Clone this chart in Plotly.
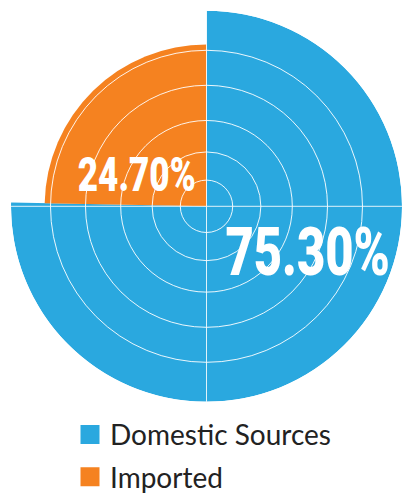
import plotly.graph_objects as go

# Share of supply by origin (percent of total)
sources = ["Domestic Sources", "Imported"]
shares = [75.30, 24.70]
# Radial length of each wedge on a 0-100 scale
reach = [100, 82.8]
# Radial gridline levels
ring_levels = [13.4, 27.8, 43.9, 61.9, 79.8]
colors = ["#2AA8DF", "#F58220"]

W, H = 402, 494

# Wedges run clockwise from 12 o'clock, width proportional to share
widths = [s * 3.6 for s in shares]
centers = []
start = 0.0
for w in widths:
    centers.append(start + w / 2)
    start += w

fig = go.Figure()

for name, r, th, w, c in zip(sources, reach, centers, widths, colors):
    fig.add_trace(go.Barpolar(
        r=[r], theta=[th], width=[w], name=name,
        marker=dict(color=c, line=dict(width=0)),
        showlegend=False, hoverinfo="skip", subplot="polar",
    ))

# Legend entries live on the overlay subplot that carries the gridlines
for name, c in zip(sources, colors):
    fig.add_trace(go.Scatterpolar(
        r=[None], theta=[None], mode="markers", name=name,
        legendgroup=name,
        marker=dict(symbol="square", size=16, color=c, line=dict(color=c, width=3)),
        subplot="polar2", hoverinfo="skip",
    ))

# Percentage labels (x, y in pixels, font size)
label_pos = [(307, 252, 67), (136, 175, 48)]
annotations = []
for s, (px, py, fs) in zip(shares, label_pos):
    annotations.append(dict(
        text=f"{s:.2f}%", x=px / W, y=1 - py / H,
        xref="paper", yref="paper", xanchor="center", yanchor="middle",
        showarrow=False,
        font=dict(family="Roboto", size=fs, color="white", weight=900),
    ))

cx, cy, rad = 206.5, 206.3, 195.5
dom = dict(x=[(cx - rad) / W, min(1.0, (cx + rad) / W)],
           y=[1 - (cy + rad) / H, 1 - (cy - rad) / H])

hidden_angular = dict(rotation=90, direction="clockwise", showgrid=False,
                      showticklabels=False, showline=False, ticks="")
hidden_radial = dict(range=[0, 100], showgrid=False, showticklabels=False,
                     showline=False, ticks="")

fig.update_layout(
    width=W, height=H,
    margin=dict(l=0, r=0, t=0, b=0, autoexpand=False),
    paper_bgcolor="white", plot_bgcolor="white",
    polar=dict(domain=dom, bgcolor="rgba(0,0,0,0)",
               angularaxis=hidden_angular, radialaxis=hidden_radial),
    polar2=dict(
        domain=dom, bgcolor="rgba(0,0,0,0)",
        angularaxis=dict(rotation=90, direction="clockwise", tickmode="array",
                         tickvals=[0, 90, 180, 270], showgrid=True,
                         gridcolor="rgba(255,255,255,0.85)", gridwidth=1,
                         showticklabels=False, showline=False, ticks=""),
        radialaxis=dict(range=[0, 100], tickmode="array", tickvals=ring_levels,
                        showgrid=True, gridcolor="rgba(255,255,255,0.9)", gridwidth=1,
                        showticklabels=False, showline=False, ticks=""),
    ),
    showlegend=True,
    legend=dict(x=70 / W, y=1 - 409.7 / H, xanchor="left", yanchor="top",
                font=dict(family="Lato", size=28, color="#222"),
                tracegroupgap=3, bgcolor="rgba(0,0,0,0)"),
    annotations=annotations,
)

# Condense the percentage labels horizontally
condense = """
var gd = document.getElementById('{plot_id}');
gd.querySelectorAll('.annotation-text').forEach(function (t) {
    t.style.transformBox = 'fill-box';
    t.style.transformOrigin = 'center';
    t.style.transform = 'scaleX(0.73)';
});
"""

fig.write_html("out.html", post_script=condense)
